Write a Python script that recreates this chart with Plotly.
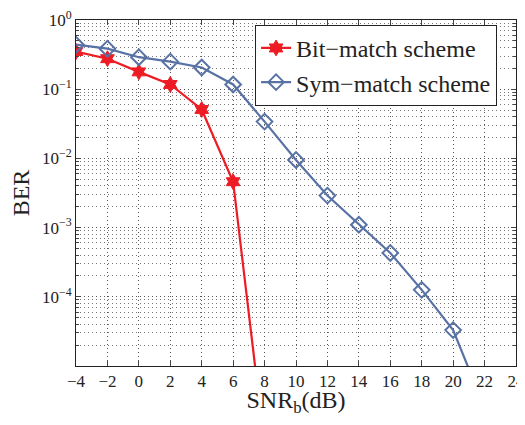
import plotly.graph_objects as go

snr_bit = [-4, -2, 0, 2, 4, 6, 8]
ber_bit = [0.35, 0.276, 0.178, 0.117, 0.051, 0.0046, 7e-7]
snr_sym = [-4, -2, 0, 2, 4, 6, 8, 10, 12, 14, 16, 18, 20, 22]
ber_sym = [0.44, 0.385, 0.29, 0.25, 0.206, 0.117, 0.034, 0.0095, 0.0029,
           0.0011, 0.00043, 0.000126, 3.3e-5, 2.5e-6]
xticks = list(range(-4, 25, 2))
yticks = [1e-4, 1e-3, 1e-2, 1e-1, 1]
ylabels = ["10<sup>−4</sup>", "10<sup>−3</sup>", "10<sup>−2</sup>", "10<sup>−1</sup>", "10<sup>0</sup>"]

RED = "#ED1C24"
BLUE = "#5872A5"
FONT = "Liberation Serif"
DOTS = "1px,3px"

fig = go.Figure()
fig.add_trace(go.Scatter(x=snr_bit, y=ber_bit, mode="lines+markers", name="Bit−match scheme",
                         line=dict(color=RED, width=2.2),
                         marker=dict(symbol="hexagram", size=12, color=RED,
                                     line=dict(color=RED, width=1))))
fig.add_trace(go.Scatter(x=snr_sym, y=ber_sym, mode="lines+markers", name="Sym−match scheme",
                         line=dict(color=BLUE, width=2.2),
                         marker=dict(symbol="diamond-open", size=12, color=BLUE,
                                     line=dict(color=BLUE, width=2))))

# the page body keeps an 8px default margin, so the figure is made smaller
fig.update_layout(
    width=517, height=409,
    margin=dict(l=68, r=9, t=12, b=51),
    paper_bgcolor="white", plot_bgcolor="white",
    font=dict(family=FONT, size=17, color="#222"),
    legend=dict(x=0.407, y=0.986, xanchor="left", yanchor="top",
                bgcolor="white", bordercolor="#222", borderwidth=1,
                font=dict(family=FONT, size=24), tracegroupgap=0),
    xaxis=dict(range=[-4, 24], tickvals=xticks, ticks="inside", ticklen=5,
               showline=True, linecolor="#222", linewidth=1, mirror="allticks",
               showgrid=True, gridcolor="#555", griddash=DOTS, gridwidth=1,
               zeroline=False, automargin=False, ticklabeloverflow="allow",
               title=dict(text="SNR<sub>b</sub>(dB)", font=dict(size=24), standoff=2),
               tickfont=dict(size=17)),
    yaxis=dict(type="log", range=[-5, 0], tickvals=yticks, ticktext=ylabels,
               ticks="inside", ticklen=5,
               showline=True, linecolor="#222", linewidth=1, mirror="allticks",
               showgrid=True, gridcolor="#555", griddash=DOTS, gridwidth=1,
               minor=dict(dtick="D1", showgrid=True, gridcolor="#777",
                          griddash=DOTS, ticks="inside", ticklen=3),
               zeroline=False, automargin=False, ticklabeloverflow="allow",
               title=dict(text="BER", font=dict(size=24), standoff=12),
               tickfont=dict(size=17)),
)
fig.write_html("out.html")
